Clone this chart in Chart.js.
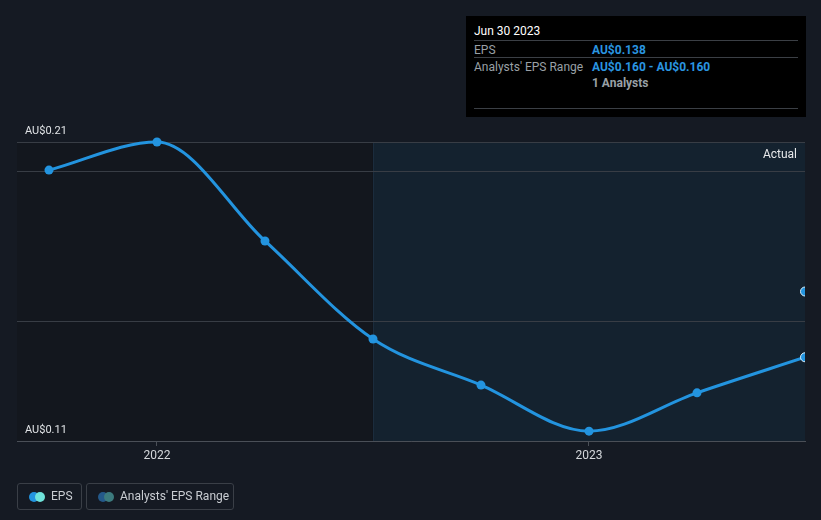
<!DOCTYPE html>
<html lang="en">
<head>
    <meta charset="UTF-8">
    <title>EPS Chart</title>
    <script src="https://cdn.jsdelivr.net/npm/chart.js"></script>
    <style>
        body {
            margin: 0;
            background: #151a23;
            font-family: Roboto, "Noto Sans", sans-serif;
        }
        #wrap {
            position: relative;
            width: 821px;
            height: 520px;
        }
        #tip {
            position: absolute;
            left: 466px;
            top: 16px;
            width: 340px;
            height: 101px;
            background: #000;
            font-size: 12px;
            color: #fff;
        }
        #tip .title { position: absolute; left: 8px; top: 8px; }
        #tip .row { position: absolute; left: 8px; width: 324px; border-top: 1px solid #3b3f45; height: 16px; }
        #tip .k { position: absolute; left: 0; top: 2px; color: #9aa0a6; }
        #tip .v { position: absolute; left: 118px; top: 2px; color: #2a95e0; font-weight: bold; }
        #tip .g { position: absolute; left: 118px; top: 2px; color: #9aa0a6; font-weight: bold; }
        .leg {
            position: absolute;
            top: 483px;
            height: 25px;
            border: 1px solid #3a3f47;
            border-radius: 3px;
            font-size: 12px;
            color: #c9cdd2;
        }
        .leg span.dot { position: absolute; top: 8px; width: 10px; height: 10px; border-radius: 50%; }
        .leg span.txt { position: absolute; top: 5px; }
    </style>
</head>
<body>
<div id="wrap">
    <canvas id="epsChart" width="821" height="520"></canvas>

    <div id="tip">
        <div class="title">Jun 30 2023</div>
        <div class="row" style="top:24px;"><span class="k">EPS</span><span class="v">AU$0.138</span></div>
        <div class="row" style="top:41px;"><span class="k">Analysts' EPS Range</span><span class="v">AU$0.160 - AU$0.160</span></div>
        <div class="row" style="top:58px;border-top:none;"><span class="g">1 Analysts</span></div>
        <div class="row" style="top:92px;height:0;"></div>
    </div>

    <div class="leg" style="left:17px;width:63px;">
        <span class="dot" style="left:11px;background:#2394df;"></span>
        <span class="dot" style="left:17px;background:#6fe3da;"></span>
        <span class="txt" style="left:33px;">EPS</span>
    </div>
    <div class="leg" style="left:86px;width:146px;">
        <span class="dot" style="left:11px;background:#24598a;"></span>
        <span class="dot" style="left:17px;background:#3c7b7e;"></span>
        <span class="txt" style="left:33px;">Analysts' EPS Range</span>
    </div>
</div>
<script>
    // quarter ends as decimal years
    const periods = [2021.75, 2022.0, 2022.25, 2022.5, 2022.75, 2023.0, 2023.25, 2023.5];
    const epsValues = [0.2006, 0.2100, 0.1769, 0.1441, 0.1287, 0.1133, 0.1261, 0.138];

    const analystPeriods = [2023.5];
    const analystValues = [0.160];

    const yTicks = [0.11, 0.15, 0.20, 0.21];
    const yLabelled = [0.11, 0.21];
    const xTicks = [2022, 2023];

    const forecastFrom = 2022.5; // start of shaded "Actual" zone

    const xMin = 2021.676;
    const xMax = 2023.5;

    const epsPoints = periods.map((p, i) => ({ x: p, y: epsValues[i] }));
    const analystPoints = analystPeriods.map((p, i) => ({ x: p, y: analystValues[i] }));
    const lastIdx = epsPoints.length - 1;

    const zones = {
        id: 'zones',
        beforeDraw(chart) {
            const { ctx, chartArea: a, scales: { x } } = chart;
            const split = x.getPixelForValue(forecastFrom);
            ctx.save();
            ctx.fillStyle = '#13171e';
            ctx.fillRect(a.left, a.top, split - a.left, a.bottom - a.top);
            ctx.fillStyle = '#14222f';
            ctx.fillRect(split, a.top, a.right - split, a.bottom - a.top);
            ctx.strokeStyle = '#1b2c3d';
            ctx.lineWidth = 1;
            ctx.beginPath();
            ctx.moveTo(Math.round(split) + 0.5, a.top);
            ctx.lineTo(Math.round(split) + 0.5, a.bottom);
            ctx.stroke();
            ctx.fillStyle = '#e6e8ea';
            ctx.font = '12px Roboto';
            ctx.textAlign = 'right';
            ctx.textBaseline = 'middle';
            ctx.fillText('Actual', a.right - 8, a.top + 13);
            ctx.restore();
        }
    };

    const ctx = document.getElementById('epsChart').getContext('2d');
    const epsChart = new Chart(ctx, {
        type: 'line',
        data: {
            datasets: [{
                label: 'EPS',
                data: epsPoints,
                clip: { left: false, top: false, right: 0, bottom: false },
                borderColor: '#2394df',
                borderWidth: 3,
                cubicInterpolationMode: 'monotone',
                pointRadius: 4.5,
                pointBackgroundColor: '#2394df',
                pointBorderWidth: c => c.dataIndex === lastIdx ? 1 : 0,
                pointBorderColor: c => c.dataIndex === lastIdx ? '#dbeefa' : '#2394df',
                fill: false
            }, {
                label: "Analysts' EPS Range",
                data: analystPoints,
                clip: { left: false, top: false, right: 0, bottom: false },
                showLine: false,
                pointRadius: 4.5,
                pointBackgroundColor: '#2394df',
                pointBorderColor: '#dbeefa',
                pointBorderWidth: 1
            }]
        },
        options: {
            responsive: false,
            animation: false,
            layout: { padding: { left: 17, right: 16, top: 142, bottom: 49 } },
            plugins: {
                legend: { display: false },
                tooltip: { enabled: false }
            },
            scales: {
                x: {
                    type: 'linear',
                    min: xMin,
                    max: xMax,
                    afterBuildTicks: s => { s.ticks = xTicks.map(v => ({ value: v })); },
                    afterFit: s => { s.height = 30; },
                    ticks: {
                        color: '#d4d7db',
                        font: { family: 'Roboto', size: 12 },
                        padding: 3,
                        maxRotation: 0,
                        callback: v => String(v)
                    },
                    grid: {
                        drawOnChartArea: false,
                        drawTicks: true,
                        tickLength: 5,
                        color: '#4a4f57'
                    },
                    border: { display: true, color: '#4a4f57', width: 1 }
                },
                y: {
                    min: 0.11,
                    max: 0.21,
                    afterBuildTicks: s => { s.ticks = yTicks.map(v => ({ value: v })); },
                    afterFit: s => { s.width = 0; },
                    ticks: {
                        mirror: true,
                        padding: 8,
                        labelOffset: -11,
                        color: '#e0e3e6',
                        font: { family: 'Roboto', size: 11 },
                        callback: v => yLabelled.some(t => Math.abs(t - v) < 1e-9) ? 'AU$' + v.toFixed(2) : ''
                    },
                    grid: {
                        drawTicks: false,
                        color: '#383d45'
                    },
                    border: { display: false }
                }
            }
        },
        plugins: [zones]
    });
</script>
</body>
</html>
